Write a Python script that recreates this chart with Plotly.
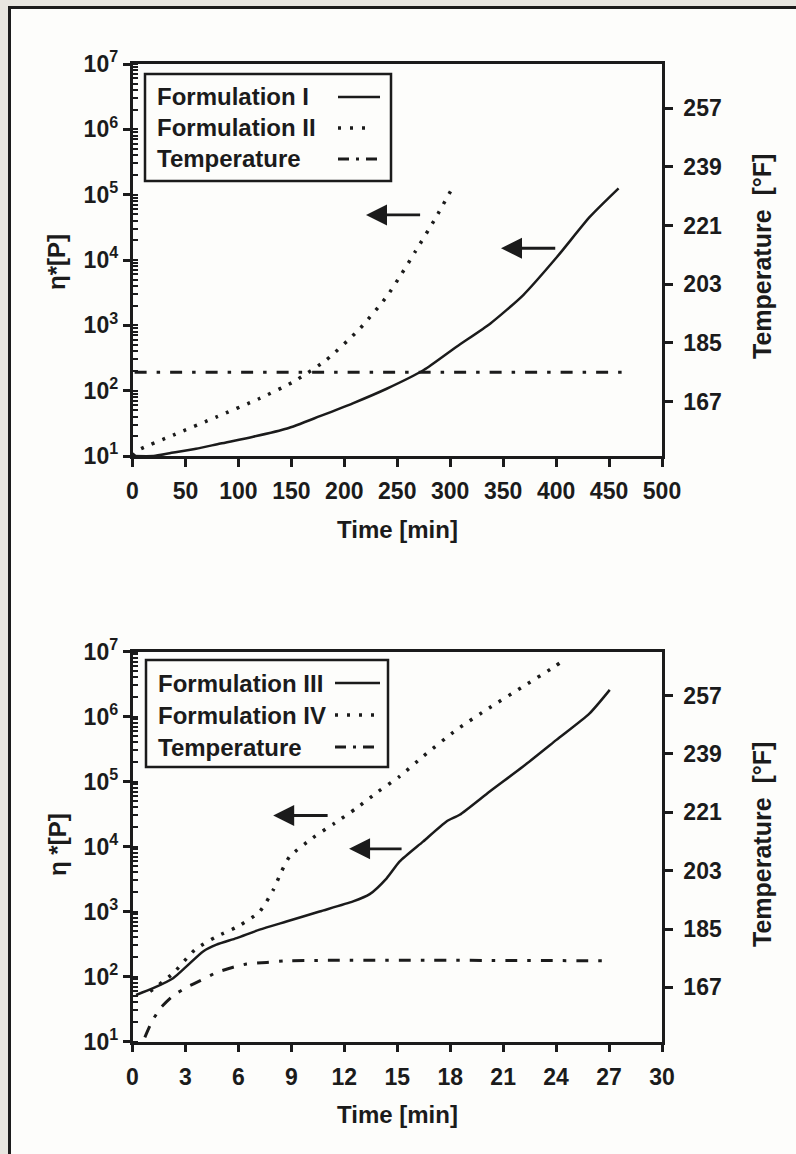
import plotly.graph_objects as go

W, H = 796, 1154

# ---------------- data: top panel (Time in min) ----------------
time_I = [0, 20, 35, 60, 83, 114, 146, 177, 208, 240, 275, 306, 338, 369, 401, 432, 459]
eta_I = [10, 10, 11, 12.9, 15.5, 19.7, 26.3, 40.7, 64, 107, 207, 471, 1070, 2910, 11200, 46000, 125000]
time_II = [0, 5.5, 38.5, 79.5, 120, 152, 183, 215, 240, 253, 267, 286, 303]
eta_II = [10, 12.3, 20.9, 39.8, 75.9, 137, 295, 902, 2750, 5750, 13400, 43400, 135000]
time_T_top = [2, 463]
temp_top = [176, 176]

# ---------------- data: bottom panel (Time in min) ----------------
time_III = [0.2, 1.17, 2.3, 3.06, 4.0, 4.76, 5.9, 7.2, 8.72, 10.6, 12.5, 13.44, 14.4, 15.14,
            16.46, 17.79, 18.54, 20.24, 22.13, 24.02, 25.9, 27.04]
eta_III = [52, 66, 94, 143, 243, 309, 389, 525, 701, 1000, 1430, 1850, 3240, 5890,
           11900, 24300, 30800, 70200, 170000, 437000, 1120000, 2570000]
time_IV = [1.0, 2.3, 3.53, 4.76, 5.98, 7.21, 7.97, 8.44, 8.91, 10.2, 11.46, 12.69, 13.92,
           15.14, 16.46, 18.36, 20.2, 22.04, 23.93, 24.55]
eta_IV = [58.9, 112, 257, 412, 589, 1000, 2140, 4120, 7020, 13500, 22900, 38900, 70200,
          120000, 243000, 624000, 1350000, 2790000, 5890000, 7730000]
time_T_bot = [0.7, 1.08, 1.55, 2.3, 3.06, 3.81, 4.76, 5.7, 6.46, 7.6, 8.72, 27.05]
temp_bot = [151.6, 156.2, 160.4, 164.4, 167, 169, 171.6, 173.2, 174.2, 174.7, 175.2, 175.2]

# ---------------- ticks ----------------
eta_tickvals = [1e1, 1e2, 1e3, 1e4, 1e5, 1e6, 1e7]
eta_ticktext = ["10<sup>1</sup>", "10<sup>2</sup>", "10<sup>3</sup>", "10<sup>4</sup>",
                "10<sup>5</sup>", "10<sup>6</sup>", "10<sup>7</sup>"]
temp_tickvals = [167, 185, 203, 221, 239, 257]
top_x_ticks = [0, 50, 100, 150, 200, 250, 300, 350, 400, 450, 500]
bot_x_ticks = [0, 3, 6, 9, 12, 15, 18, 21, 24, 27, 30]

legend_top = ["Formulation I", "Formulation II", "Temperature"]
legend_bot = ["Formulation III", "Formulation IV", "Temperature"]

INK = "#1b1b1b"
FAM = "Liberation Sans, Arial, sans-serif"
TICKFONT = dict(family=FAM, size=23, color=INK, weight="bold")
LABFONT = dict(family=FAM, size=24, color=INK, weight="bold")
RTITLEFONT = dict(family=FAM, size=25, color=INK, weight="bold")

DOT = "3px,8.5px"
DASHDOT = "12px,10px,3.5px,10px"


def px(x):
    return x / W


def py(y):
    return 1 - y / H


fig = go.Figure()


def line(dash, width):
    return dict(color=INK, width=width, dash=dash, shape="spline", smoothing=0.6)


# top panel traces
fig.add_trace(go.Scatter(x=time_I, y=eta_I, mode="lines", line=line("solid", 2.5),
                         xaxis="x", yaxis="y", showlegend=False))
fig.add_trace(go.Scatter(x=time_II, y=eta_II, mode="lines", line=line(DOT, 3.5),
                         xaxis="x", yaxis="y", showlegend=False))
fig.add_trace(go.Scatter(x=time_T_top, y=temp_top, mode="lines", line=line(DASHDOT, 3),
                         xaxis="x", yaxis="y2", showlegend=False))
# bottom panel traces
fig.add_trace(go.Scatter(x=time_III, y=eta_III, mode="lines", line=line("solid", 2.5),
                         xaxis="x2", yaxis="y3", showlegend=False))
fig.add_trace(go.Scatter(x=time_IV, y=eta_IV, mode="lines", line=line(DOT, 3.5),
                         xaxis="x2", yaxis="y3", showlegend=False))
fig.add_trace(go.Scatter(x=time_T_bot, y=temp_bot, mode="lines", line=line(DASHDOT, 3),
                         xaxis="x2", yaxis="y4", showlegend=False))

xdom = [px(132.5), px(662)]
top_dom = [py(456), py(64)]
bot_dom = [py(1041.5), py(651.5)]

common_x = dict(showline=True, linewidth=2.5, linecolor=INK, mirror=True, ticks="outside",
                ticklen=8, tickwidth=2.5, tickcolor=INK, showgrid=False, zeroline=False,
                tickfont=TICKFONT, ticklabelstandoff=5, automargin=False)
common_log = dict(type="log", range=[1, 7], tickmode="array", tickvals=eta_tickvals,
                  ticktext=eta_ticktext, showline=True, linewidth=2.5, linecolor=INK,
                  ticks="outside", ticklen=7, tickwidth=3, tickcolor=INK, showgrid=False,
                  zeroline=False, tickfont=TICKFONT, automargin=False,
                  minor=dict(ticks="inside", ticklen=6, tickwidth=2, tickcolor=INK,
                             dtick="D1", showgrid=False))
common_temp = dict(side="right", range=[150.3, 270.6], tickmode="array", tickvals=temp_tickvals,
                   showline=True, linewidth=2.5, linecolor=INK, ticks="outside", ticklen=8,
                   tickwidth=2.5, tickcolor=INK, showgrid=False, zeroline=False, tickfont=TICKFONT,
                   ticklabelstandoff=6, automargin=False)

fig.update_layout(
    template="none",
    width=W, height=H,
    margin=dict(l=0, r=0, t=0, b=0, pad=0, autoexpand=False),
    paper_bgcolor="#e8e6e0",
    plot_bgcolor="#fdfdfb",
    showlegend=False,
    xaxis=dict(domain=xdom, anchor="y", range=[0, 500], tickmode="array", tickvals=top_x_ticks, **common_x),
    yaxis=dict(domain=top_dom, anchor="x", **common_log),
    yaxis2=dict(overlaying="y", anchor="x", **common_temp),
    xaxis2=dict(domain=xdom, anchor="y3", range=[0, 30], tickmode="array", tickvals=bot_x_ticks, **common_x),
    yaxis3=dict(domain=bot_dom, anchor="x2", **common_log),
    yaxis4=dict(overlaying="y3", anchor="x2", **common_temp),
)

shapes = []
# page frame
shapes.append(dict(type="rect", xref="paper", yref="paper", x0=px(11), x1=1.0, y0=0, y1=py(9),
                   fillcolor="#fdfdfb", line=dict(width=0), layer="below"))
shapes.append(dict(type="rect", xref="paper", yref="paper", x0=px(8), x1=px(11), y0=0, y1=py(6),
                   fillcolor="#1c1c1c", line=dict(width=0), layer="below"))
shapes.append(dict(type="rect", xref="paper", yref="paper", x0=px(8), x1=1.0, y0=py(9), y1=py(6),
                   fillcolor="#1c1c1c", line=dict(width=0), layer="below"))

annotations = []


def text_at(x, y, text, angle=0, xanchor="center", font=LABFONT):
    return dict(x=px(x), y=py(y), xref="paper", yref="paper", text=text, textangle=angle,
                showarrow=False, xanchor=xanchor, yanchor="middle", font=font)


def add_legend(box, rows, labels, samp):
    x0, y0, x1, y1 = box
    shapes.append(dict(type="rect", xref="paper", yref="paper", x0=px(x0), x1=px(x1),
                       y0=py(y1), y1=py(y0), line=dict(color=INK, width=2.5),
                       fillcolor="rgba(0,0,0,0)", layer="above"))
    dashes = ["solid", "3px,9px", "11px,7px,3px,7px"]
    widths = [2.5, 3.5, 3]
    ends = [samp[1], samp[1] - 6, samp[1]]
    for i, (lab, yy) in enumerate(zip(labels, rows)):
        annotations.append(text_at(x0 + 10, yy, lab, xanchor="left"))
        shapes.append(dict(type="line", xref="paper", yref="paper", x0=px(samp[0]), x1=px(ends[i]),
                           y0=py(yy), y1=py(yy), line=dict(color=INK, width=widths[i], dash=dashes[i]),
                           layer="above"))


add_legend((145, 74, 391, 181), [97, 128, 159], legend_top, (338, 380))
add_legend((146, 660, 388, 767), [683, 715, 747], legend_bot, (335, 380))

# axis titles
annotations += [
    text_at(57, 262, "η*[P]", angle=-90),
    text_at(57, 845, "η *[P]", angle=-90),
    text_at(762, 257, "Temperature  [°F]", angle=-90, font=RTITLEFONT),
    text_at(762, 845, "Temperature  [°F]", angle=-90, font=RTITLEFONT),
    text_at(397, 529, "Time [min]"),
    text_at(397, 1114, "Time [min]"),
]

# arrows (head, tail) in data coordinates; y given as log10 on log axes
arrow_specs = [
    ("x", "y", 220.5, 273, 4.69),
    ("x", "y", 348, 400.6, 4.18),
    ("x2", "y3", 7.97, 11.14, 4.477),
    ("x2", "y3", 12.27, 15.33, 3.965),
]
for xr, yr, xh, xt, yl in arrow_specs:
    annotations.append(dict(x=xh, y=yl, ax=xt, ay=yl, xref=xr, yref=yr, axref=xr, ayref=yr,
                            showarrow=True, arrowhead=2, arrowsize=1.5, arrowwidth=2.8,
                            arrowcolor=INK, text=""))

fig.update_layout(shapes=shapes, annotations=annotations)
fig.write_html("out.html", config={"displayModeBar": False},
               post_script="document.body.style.margin='0';document.body.style.padding='0';"
                           "document.documentElement.style.overflow='hidden';")
